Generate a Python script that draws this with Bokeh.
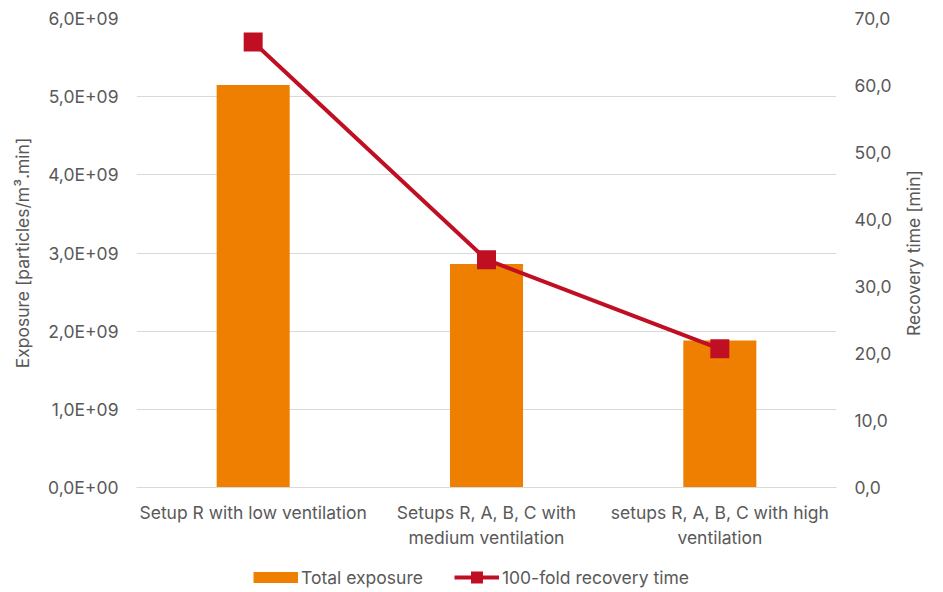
from bokeh.plotting import figure
from bokeh.layouts import column, row
from bokeh.models import (Range1d, LinearAxis, FixedTicker, CustomJSTickFormatter,
                          Legend, LegendItem, FactorRange, Title)
from bokeh.embed import file_html
from bokeh.resources import INLINE

categories = ["Setup R with low ventilation",
              "Setups R, A, B, C with\nmedium ventilation",
              "setups R, A, B, C with high\nventilation"]
total_exposure = [5.15e9, 2.86e9, 1.88e9]
recovery_time = [66.5, 34.0, 20.7]
left_ticks = [0, 1e9, 2e9, 3e9, 4e9, 5e9, 6e9]
right_ticks = [0, 10, 20, 30, 40, 50, 60, 70]

FONT = "Inter"
SIZE = "17.5px"
TXT = "#595959"
ORANGE = "#EE7F00"
RED = "#C00F23"
GRID = "#D9D9D9"


def quiet_axis(ax):
    ax.axis_line_color = None
    ax.major_tick_line_color = None
    ax.minor_tick_line_color = None
    ax.major_tick_out = 0
    ax.major_tick_in = 0
    ax.minor_tick_out = 0
    ax.major_label_text_font = FONT
    ax.major_label_text_font_size = SIZE
    ax.major_label_text_color = TXT
    ax.axis_label_text_font = FONT
    ax.axis_label_text_font_size = SIZE
    ax.axis_label_text_font_style = "normal"
    ax.axis_label_text_color = TXT


# main chart: bars on the left scale, recovery line on the right scale
p = figure(width=900, height=550, x_range=FactorRange(*categories, range_padding=0),
           y_range=Range1d(0, 6e9), output_backend="svg", toolbar_location=None,
           min_border_left=136, min_border_right=64, min_border_top=18,
           min_border_bottom=63)
p.extra_y_ranges = {"rt": Range1d(0, 70)}
p.outline_line_color = None
p.border_fill_color = "white"

p.vbar(x=categories, top=total_exposure, width=0.313, color=ORANGE, line_color=None)
p.line(x=categories, y=recovery_time, y_range_name="rt", line_color=RED, line_width=4)
p.scatter(x=categories, y=recovery_time, y_range_name="rt", marker="square",
          size=19, color=RED, line_color=None)

p.xgrid.visible = False
p.ygrid.grid_line_color = GRID
p.ygrid.ticker = FixedTicker(ticks=left_ticks)

xa = p.xaxis[0]
quiet_axis(xa)
xa.axis_line_color = GRID
xa.major_label_standoff = 14

ya = p.yaxis[0]
quiet_axis(ya)
ya.ticker = FixedTicker(ticks=left_ticks)
ya.formatter = CustomJSTickFormatter(code="""
    const s = tick.toExponential(1).replace('.', ',');
    return s.replace(/e\\+(\\d)$/, 'E+0$1').replace(/e\\+(\\d\\d)$/, 'E+$1');
""")
ya.major_label_standoff = 18
ya.axis_label = "Exposure [particles/m³.min]"
ya.axis_label_standoff = 12

ra = LinearAxis(y_range_name="rt", ticker=FixedTicker(ticks=right_ticks))
quiet_axis(ra)
ra.formatter = CustomJSTickFormatter(code="return tick.toFixed(1).replace('.', ',');")
ra.major_label_standoff = 18
p.add_layout(ra, "right")

# strip to the right carrying the recovery-time title, reading upwards
side = figure(width=43, height=550, output_backend="svg", toolbar_location=None,
              x_axis_type=None, y_axis_type=None,
              x_range=Range1d(0, 1), y_range=Range1d(0, 70),
              min_border_left=0, min_border_right=0, min_border_top=18,
              min_border_bottom=63)
side.outline_line_color = None
side.xgrid.visible = False
side.ygrid.visible = False
side.add_layout(Title(text="Recovery time [min]", align="center", text_font=FONT,
                      text_font_size=SIZE, text_font_style="normal", text_color=TXT,
                      offset=0, standoff=0), "left")

# legend strip below the chart; its sample glyphs take the chart's data,
# which lies outside this strip's visible range
leg = figure(width=943, height=42, output_backend="svg", toolbar_location=None,
             x_axis_type=None, y_axis_type=None, min_border=0,
             x_range=FactorRange(*categories), y_range=Range1d(-1, 0))
leg.outline_line_color = None
leg.xgrid.visible = False
leg.ygrid.visible = False
swatch = leg.line(x=categories, y=total_exposure, line_color=ORANGE, line_width=11)
trend = leg.line(x=categories, y=recovery_time, line_color=RED, line_width=4)
pts = leg.scatter(x=categories, y=recovery_time, marker="square", color=RED, line_color=None)
legend = Legend(items=[LegendItem(label="Total exposure", renderers=[swatch]),
                       LegendItem(label="100-fold recovery time", renderers=[trend, pts])],
                orientation="horizontal", location=(253, 0),
                glyph_width=45, glyph_height=30, label_standoff=3, spacing=31,
                padding=0, margin=0, border_line_color=None, background_fill_alpha=0,
                label_text_font=FONT, label_text_font_size=SIZE, label_text_color=TXT)
leg.add_layout(legend, "center")

layout = column(row(p, side, spacing=0), leg, spacing=0)
open("out.html", "w").write(file_html(layout, INLINE))
